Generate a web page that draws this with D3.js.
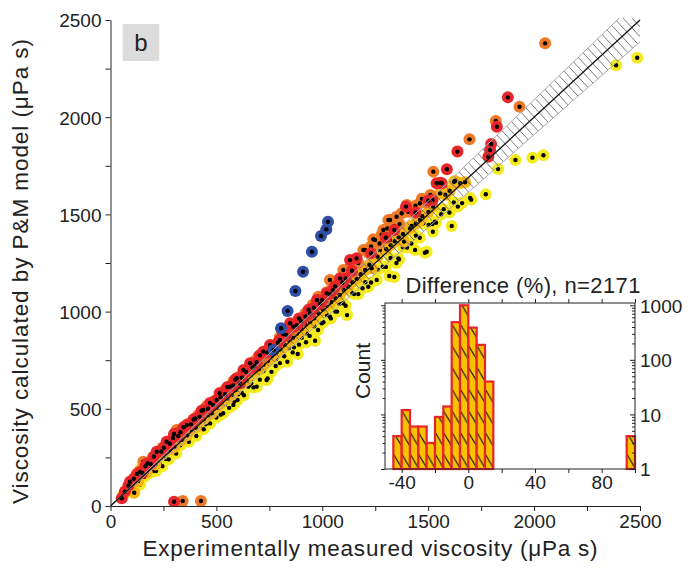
<!DOCTYPE html>
<html><head><meta charset="utf-8">
<script src="https://cdn.jsdelivr.net/npm/d3@7"></script>
<style>
body{margin:0;background:#fff}
text{font-family:"Liberation Sans",Arial,Helvetica,sans-serif;fill:#222}
</style>
</head><body>
<svg id="chart" width="692" height="569"></svg>
<script>
// ---------------- DATA ----------------
// [experimentally measured, calculated by P&M model]  (µPa s)
const yellowPts = [
[100,80],[120,110],[140,110],[160,150],[182,168],[200,180],[215,180],[232,216],[245,205],[262,242],[275,240],[290,275],[310,270],[330,312],[352,334],[370,330],[391,382],[395,391],[405,360],[421,404],[440,395],[450,420],[470,425],[482,461],[500,455],[520,470],[532,477],[541,522],[560,505],[580,520],[585,537],[600,545],[603,575],[620,582],[630,570],[651,614],[656,622],[662,641],[664,631],[675,610],[690,614],[705,650],[722,694],[737,648],[742,656],[760,690],[780,720],[782,756],[800,735],[820,770],[835,742],[842,812],[860,790],[866,816],[884,782],[890,830],[903,866],[923,842],[926,888],[940,875],[962,925],[966,850],[980,905],[997,940],[1005,945],[1021,982],[1036,974],[1040,965],[1062,1000],[1070,1000],[1081,1041],[1099,1043],[1110,1030],[1117,982],[1142,1096],[1150,1090],[1170,1090],[1190,1120],[1203,1151],[1217,1128],[1230,1150],[1257,1163],[1262,1216],[1285,1231],[1300,1230],[1316,1183],[1322,1276],[1340,1178],[1350,1250],[1359,1274],[1362,1268],[1381,1331],[1400,1330],[1420,1350],[1438,1317],[1442,1391],[1460,1380],[1477,1454],[1484,1303],[1493,1308],[1502,1446],[1520,1450],[1522,1411],[1532,1462],[1537,1457],[1561,1501],[1573,1527],[1600,1510],[1611,1440],[1621,1561],[1640,1540],[1660,1558],[1698,1584],[1703,1576],[1772,1604],[1830,1733],[1912,1780],[1992,1792],[2044,1804],[2387,2267],[2487,2306]
];
const amberPts = [
[60,55],[80,90],[108,117],[112,68],[131,129],[139,185],[150,194],[171,173],[194,220],[212,214],[245,266],[281,291],[302,304],[336,340],[361,364],[379,391],[402,404],[423,434],[441,447],[461,468],[478,477],[502,506],[521,527],[552,554],[572,571],[591,597],[622,633],[642,646],[681,693],[701,704],[722,727],[743,747],[761,772],[782,789],[801,806],[822,829],[841,852],[862,867],[881,887],[902,911],[921,932],[942,947],[961,966],[982,991],[1002,1012],[1021,1031],[1042,1049],[1061,1070],[1082,1086],[1101,1112],[1122,1129],[1141,1152],[1162,1169],[1181,1192],[1202,1214],[1222,1241],[1233,1223],[1261,1282],[1272,1317],[1302,1321],[1320,1368],[1323,1341],[1342,1362],[1361,1382],[1381,1399],[1386,1360],[1414,1428],[1422,1441],[1441,1452],[1461,1471],[1472,1491],[1501,1512],[1522,1541],[1556,1608],[1581,1601],[1601,1622],[1622,1668],[1627,1672],[1651,1661],[1674,1665]
];
const orangePts = [
[100,130],[118,150],[130,160],[155,228],[180,215],[200,250],[215,265],[230,270],[245,300],[262,315],[280,330],[298,352],[312,391],[330,370],[350,400],[365,420],[380,430],[400,445],[415,468],[427,480],[440,490],[455,515],[470,520],[490,540],[510,540],[525,585],[541,597],[549,580],[560,610],[580,640],[600,640],[615,670],[627,683],[640,690],[660,700],[680,745],[698,768],[700,740],[715,780],[730,770],[745,805],[760,820],[780,830],[800,870],[820,870],[840,900],[860,905],[878,945],[895,957],[903,966],[920,990],[940,980],[955,1035],[960,1030],[974,1043],[981,1077],[1010,1060],[1020,1100],[1036,1163],[1040,1110],[1060,1120],[1072,1160],[1080,1150],[1099,1214],[1120,1190],[1130,1225],[1140,1200],[1160,1255],[1170,1250],[1194,1317],[1202,1317],[1220,1300],[1230,1335],[1241,1372],[1249,1368],[1270,1350],[1280,1395],[1288,1420],[1307,1428],[1312,1471],[1320,1471],[1340,1440],[1351,1488],[1365,1450],[1375,1506],[1399,1548],[1406,1514],[1420,1520],[1440,1545],[1461,1557],[1470,1580],[1490,1560],[1510,1600],[1524,1720],[1695,1886],[1819,1981],[1931,2054],[2052,2380],[341,26],[427,26]
];
const redPts = [
[53,40],[68,74],[85,105],[92,125],[110,140],[125,165],[140,175],[150,170],[165,205],[175,220],[190,215],[205,255],[218,279],[240,280],[252,300],[265,331],[280,320],[295,350],[300,370],[320,360],[330,380],[345,405],[360,417],[380,420],[392,445],[400,450],[420,460],[430,490],[438,494],[460,500],[470,530],[485,520],[501,545],[515,580],[520,560],[540,575],[552,612],[564,614],[580,620],[588,650],[596,657],[611,631],[620,660],[628,700],[640,690],[659,734],[670,712],[680,720],[690,740],[705,775],[721,794],[740,790],[753,828],[768,815],[790,840],[800,854],[815,885],[830,880],[848,940],[863,922],[880,930],[890,965],[900,950],[920,975],[935,1010],[942,991],[960,1020],[975,1060],[990,1040],[1000,1060],[1021,1094],[1035,1090],[1050,1110],[1060,1130],[1084,1171],[1095,1150],[1110,1170],[1131,1265],[1140,1210],[1162,1274],[1230,1300],[1300,1380],[1340,1420],[1395,1540],[1440,1510],[1500,1570],[1521,1574],[1540,1660],[1557,1663],[1564,1660],[1588,1732],[1638,1823],[1784,1797],[1792,1831],[1797,1862],[1824,1951],[1876,2102],[300,22]
];
const bluePts = [
[770,802],[805,914],[836,1003],[873,1106],[909,1205],[951,1308],[994,1389],[1019,1423],[1027,1462]
];
const axisTicks = [0,500,1000,1500,2000,2500];
const bandFraction = 0.045;

// inset histogram: difference (%) bins of 5 %
const binStarts = [-45,-40,-35,-30,-25,-20,-15,-10,-5,0,5,10,95];
const binCounts = [4,12,6,6,3,9,14,490,1000,390,188,40,4];
const insetXLabels = [-40,0,40,80];
const insetYLabels = [1,10,100,1000];
const binWidth = 5;

// ---------------- DRAW ----------------
const svg = d3.select("#chart");
const x = d3.scaleLinear().domain([0,2500]).range([110.5,640]);
const y = d3.scaleLinear().domain([0,2500]).range([506,20]);
const FONT = '"Liberation Sans",Arial,sans-serif';

const defs = svg.append("defs");
const blur = defs.append("filter").attr("id","soft").attr("x","-50%").attr("y","-50%").attr("width","200%").attr("height","200%");
blur.append("feGaussianBlur").attr("stdDeviation",0.45);
defs.append("clipPath").attr("id","plotClip").append("rect")
  .attr("x",x(0)).attr("y",y(2500)-2).attr("width",x(2500)-x(0)+4).attr("height",y(0)-y(2500)+2);
const bandPoly = [[0,0],[2500,2500*(1+bandFraction)],[2500,2500*(1-bandFraction)]];
defs.append("clipPath").attr("id","bandClip").append("path")
  .attr("d", d3.line().x(d=>x(d[0])).y(d=>y(d[1]))(bandPoly)+"Z");

// hatch for histogram bars
const bwPx = 5*(250/150);
const pat = defs.append("pattern").attr("id","barHatch").attr("patternUnits","userSpaceOnUse")
  .attr("width",bwPx).attr("height",21.7).attr("x",385).attr("y",303);
pat.append("rect").attr("width",bwPx).attr("height",21.7).attr("fill","#f8c200");
pat.append("line").attr("x1",0).attr("y1",-1).attr("x2",bwPx).attr("y2",13).attr("stroke","#111").attr("stroke-width",1.1);
pat.append("line").attr("x1",0).attr("y1",20.7).attr("x2",bwPx).attr("y2",34.7).attr("stroke","#111").attr("stroke-width",1.1);

// axes
const yAxis = d3.axisLeft(y).tickValues(d3.range(0,2501,250)).tickSize(5).tickSizeOuter(0)
  .tickFormat(d => axisTicks.includes(d) ? d : "");
const xAxis = d3.axisBottom(x).tickValues(d3.range(0,2501,250)).tickSize(5).tickSizeOuter(0)
  .tickFormat(d => axisTicks.includes(d) ? d : "");
const gy = svg.append("g").attr("transform",`translate(${x(0)},0)`).call(yAxis);
const gx = svg.append("g").attr("transform",`translate(0,${y(0)})`).call(xAxis);
[gx,gy].forEach(g=>{
  g.selectAll("path,line").attr("stroke","#222").attr("stroke-width",1);
  g.selectAll("text").attr("font-size",19).attr("fill","#222").style("font-family",FONT);
});
gy.selectAll("text").attr("dy","0.36em").attr("x",-9);
gx.selectAll("text").attr("y",9);

// points
const plot = svg.append("g").attr("clip-path","url(#plotClip)");
const series = [
  {pts:yellowPts, c:"#f4ea1c", r:6},
  {pts:amberPts,  c:"#f9b60e", r:6},
  {pts:orangePts, c:"#ef7a25", r:6},
  {pts:redPts,    c:"#e8282c", r:6},
  {pts:bluePts,   c:"#2f4fa3", r:6}
];
series.forEach(s=>{
  const g = plot.append("g");
  g.append("g").attr("filter","url(#soft)").selectAll("circle").data(s.pts).join("circle")
    .attr("cx",d=>x(d[0])).attr("cy",d=>y(d[1])).attr("r",s.r).attr("fill",s.c);
  g.append("g").selectAll("circle").data(s.pts).join("circle")
    .attr("cx",d=>x(d[0])).attr("cy",d=>y(d[1])).attr("r",2.2).attr("fill","#000");
});

// hatched band (drawn over points)
const bandG = plot.append("g");
const inner = bandG.append("g").attr("clip-path","url(#bandClip)");
const L = Math.hypot(x(2500)-x(0), y(2500)-y(0));
const ux = (x(2500)-x(0))/L, uy = (y(2500)-y(0))/L;
const nx = -uy, ny = ux;
const rungVals = d3.range(0,2560,23);
inner.selectAll("line").data(rungVals).join("line")
  .attr("x1",d=>x(d)-nx*40).attr("y1",d=>y(d)-ny*40)
  .attr("x2",d=>x(d)+nx*40).attr("y2",d=>y(d)+ny*40)
  .attr("stroke","#666").attr("stroke-width",0.85);
[1+bandFraction,1-bandFraction].forEach(f=>{
  bandG.append("line").attr("x1",x(0)).attr("y1",y(0)).attr("x2",x(2500)).attr("y2",y(2500*f))
    .attr("stroke","#aaa").attr("stroke-width",1);
});
bandG.append("line").attr("x1",x(0)).attr("y1",y(0)).attr("x2",x(2500)).attr("y2",y(2500))
  .attr("stroke","#111").attr("stroke-width",1.3);

// panel label
svg.append("rect").attr("x",122.7).attr("y",24).attr("width",36.6).attr("height",37).attr("fill","#dcdcdc");
svg.append("text").attr("x",141).attr("y",51).attr("text-anchor","middle").attr("font-size",24).text("b");

// axis titles
svg.append("text").attr("transform","translate(28,271.5) rotate(-90)").attr("text-anchor","middle")
  .attr("font-size",22.5).attr("textLength",465).attr("lengthAdjust","spacing")
  .text("Viscosity calculated by P&M model (μPa s)");
svg.append("text").attr("x",370).attr("y",556).attr("text-anchor","middle")
  .attr("font-size",22.5).attr("textLength",455).attr("lengthAdjust","spacing")
  .text("Experimentally measured viscosity (μPa s)");

// ---------------- INSET ----------------
const ix = d3.scaleLinear().domain([-50,100]).range([385,635]);
const iy = d3.scaleLog().domain([1,1100]).range([469,303]);
const ins = svg.append("g");
ins.append("rect").attr("x",385).attr("y",303).attr("width",250).attr("height",166).attr("fill","#fff");
ins.selectAll("rect.bar").data(binStarts.map((s,i)=>({s,c:binCounts[i]}))).join("rect")
  .attr("class","bar")
  .attr("x",d=>ix(d.s)).attr("width",d=>ix(d.s+binWidth)-ix(d.s))
  .attr("y",d=>iy(d.c)).attr("height",d=>iy(1)-iy(d.c))
  .attr("fill","url(#barHatch)").attr("stroke","#e8242a").attr("stroke-width",2.2);
ins.append("rect").attr("x",385).attr("y",303).attr("width",250).attr("height",166)
  .attr("fill","none").attr("stroke","#222").attr("stroke-width",1);

const fmtX = d => insetXLabels.includes(d) ? String(d).replace("\u2212","-") : "";
const ixb = ins.append("g").attr("transform","translate(0,469)")
  .call(d3.axisBottom(ix).tickValues(d3.range(-40,101,20)).tickSize(4).tickSizeOuter(0).tickFormat(fmtX));
const ixt = ins.append("g").attr("transform","translate(0,303)")
  .call(d3.axisTop(ix).tickValues(d3.range(-40,101,20)).tickSize(4).tickSizeOuter(0).tickFormat(""));
const minorLog = [];
[1,10,100,1000].forEach(dec=>{ for(let k=2;k<=9;k++){ const v=dec*k; if(v<=1100) minorLog.push(v);} });
const iyrMaj = ins.append("g").attr("transform","translate(635,0)")
  .call(d3.axisRight(iy).tickValues(insetYLabels).tickSize(-5).tickSizeOuter(0).tickPadding(5).tickFormat(d=>d));
const iyrMin = ins.append("g").attr("transform","translate(635,0)")
  .call(d3.axisRight(iy).tickValues(minorLog).tickSize(-3).tickSizeOuter(0).tickFormat(""));
const iylMaj = ins.append("g").attr("transform","translate(385,0)")
  .call(d3.axisLeft(iy).tickValues(insetYLabels).tickSize(4).tickSizeOuter(0).tickFormat(""));
const iylMin = ins.append("g").attr("transform","translate(385,0)")
  .call(d3.axisLeft(iy).tickValues(minorLog).tickSize(2.5).tickSizeOuter(0).tickFormat(""));
[ixb,ixt,iyrMaj,iyrMin,iylMaj,iylMin].forEach(g=>{
  g.select(".domain").remove();
  g.selectAll("line").attr("stroke","#222").attr("stroke-width",1);
  g.selectAll("text").attr("font-size",19).attr("fill","#222").style("font-family",FONT);
});
ixb.selectAll("text").attr("y",7);
iyrMaj.selectAll("text").attr("dy","0.36em");

ins.append("text").attr("x",523).attr("y",293).attr("text-anchor","middle").attr("font-size",22)
  .attr("textLength",235).attr("lengthAdjust","spacing")
  .text("Difference (%), n=2171");
ins.append("text").attr("transform","translate(370,371) rotate(-90)").attr("text-anchor","middle")
  .attr("font-size",21).text("Count");
</script>
</body></html>
